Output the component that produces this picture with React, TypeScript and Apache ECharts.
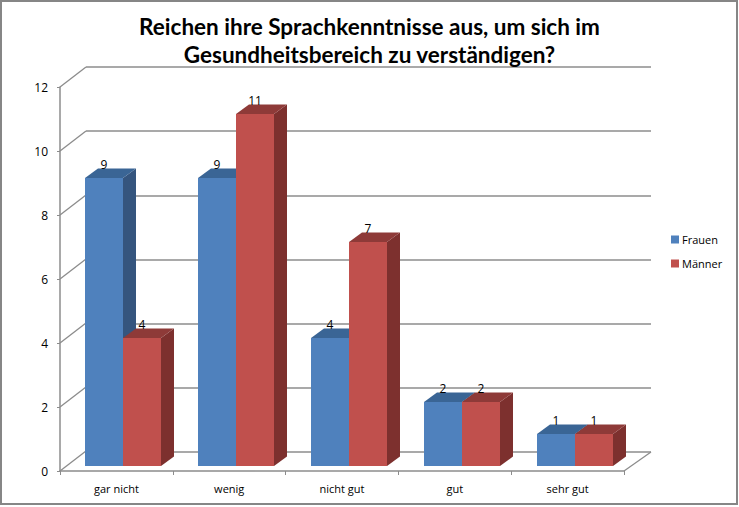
import React, { useEffect, useRef } from "react";
import * as echarts from "echarts";

const titleText = "Reichen ihre Sprachkenntnisse aus, um sich im\nGesundheitsbereich zu verständigen?";
const categories = ["gar nicht", "wenig", "nicht gut", "gut", "sehr gut"];
const frauen = [9, 9, 4, 2, 1];
const maenner = [4, 11, 7, 2, 1];
const ticks = [0, 2, 4, 6, 8, 10, 12];

const W = 739;
const H = 505;
const LINE = "#8c8c8c";
const DEPTH_X = 13;
const DEPTH_Y = 9.5;
const BASE_SHIFT = 4.6;

function barSeries(name: string, values: number[], side: number, front: string, top: string, dark: string) {
  return {
    name,
    type: "custom",
    xAxisIndex: 0,
    yAxisIndex: 0,
    clip: false,
    silent: true,
    z: 5,
    itemStyle: { color: front },
    data: values.map((v, i) => [i, v]),
    renderItem: (_p: any, api: any) => {
      const i = api.value(0);
      const v = api.value(1);
      const band = api.size([1, 0])[0];
      const barW = Math.round(band * 0.336);
      const c = api.coord([i, v]);
      const z0 = api.coord([i, 0]);
      const centre = Math.round(c[0] + band * 0.062);
      const x0 = side < 0 ? centre - barW : centre;
      const x1 = x0 + barW;
      const yt = Math.round(c[1] - BASE_SHIFT);
      const yb = Math.round(z0[1] - BASE_SHIFT);
      return {
        type: "group",
        children: [
          { type: "polygon", shape: { points: [[x1, yt], [x1 + DEPTH_X, yt - DEPTH_Y], [x1 + DEPTH_X, yb - DEPTH_Y], [x1, yb]] }, style: { fill: dark } },
          { type: "polygon", shape: { points: [[x0, yt], [x0 + DEPTH_X, yt - DEPTH_Y], [x1 + DEPTH_X, yt - DEPTH_Y], [x1, yt]] }, style: { fill: top } },
          { type: "rect", shape: { x: x0, y: yt, width: barW, height: yb - yt }, style: { fill: front } },
          {
            type: "text",
            z2: 50,
            style: {
              x: (x0 + x1) / 2,
              y: yt - 14,
              text: String(v),
              fill: "#000",
              font: "12px 'Open Sans'",
              align: "center",
              verticalAlign: "middle",
            },
          },
        ],
      };
    },
  };
}

export default function App() {
  const ref = useRef<HTMLDivElement>(null);
  useEffect(() => {
    const chart = echarts.init(ref.current!, undefined, { renderer: "svg" });
    chart.setOption({
      animation: false,
      backgroundColor: "#fff",
      title: {
        text: titleText,
        left: "center",
        top: 7,
        textStyle: { fontFamily: "Lato", fontWeight: "bold", fontSize: 22.5, lineHeight: 28, color: "#000" },
      },
      legend: {
        data: ["Frauen", "Männer"],
        orient: "vertical",
        left: 666,
        top: 229,
        itemWidth: 8,
        itemHeight: 8,
        itemGap: 13,
        icon: "rect",
        selectedMode: false,
        textStyle: { fontFamily: "Open Sans", fontSize: 11, color: "#000", padding: [0, 0, 0, -2] },
      },
      grid: [
        { left: 60, top: 87, width: 564, height: 384 },
        { left: 86, top: 67, width: 565, height: 385 },
      ],
      xAxis: [
        {
          type: "category",
          gridIndex: 0,
          data: categories,
          axisLine: { lineStyle: { color: LINE, width: 1.5 } },
          axisTick: { show: true, length: 4, lineStyle: { color: LINE } },
          axisLabel: { fontFamily: "Open Sans", fontSize: 11, color: "#000", margin: 12 },
        },
        { type: "category", gridIndex: 1, data: categories, show: false },
      ],
      yAxis: [
        {
          type: "value",
          gridIndex: 0,
          min: 0,
          max: 12,
          interval: 2,
          axisLine: { show: true, lineStyle: { color: LINE, width: 1.5 } },
          axisTick: { show: true, length: 3, lineStyle: { color: LINE } },
          axisLabel: { fontFamily: "Open Sans", fontSize: 12, color: "#000", margin: 12 },
          splitLine: { show: false },
        },
        {
          type: "value",
          gridIndex: 1,
          min: 0,
          max: 12,
          interval: 2,
          axisLine: { show: false },
          axisTick: { show: false },
          axisLabel: { show: false },
          splitLine: { show: true, lineStyle: { color: LINE, width: 1.5 } },
        },
      ],
      series: [
        {
          name: "frame",
          type: "custom",
          xAxisIndex: 0,
          yAxisIndex: 0,
          clip: false,
          silent: true,
          z: 1,
          data: ticks.map((t) => [0, t]),
          renderItem: (p: any, api: any) => {
            const y = api.coord([0, api.value(1)])[1];
            const cs = p.coordSys;
            const children: any[] = [
              { type: "line", shape: { x1: cs.x, y1: y, x2: cs.x + 26, y2: y - 20 }, style: { stroke: LINE, lineWidth: 1.3 } },
            ];
            if (api.value(1) === 0) {
              children.push({
                type: "line",
                shape: { x1: cs.x + cs.width, y1: y, x2: cs.x + cs.width + 27, y2: y - 19 },
                style: { stroke: LINE, lineWidth: 1.3 },
              });
            }
            return { type: "group", children };
          },
        },
        barSeries("Frauen", frauen, -1, "#4F81BD", "#3A6595", "#35557E"),
        barSeries("Männer", maenner, 1, "#C0504D", "#8E3A38", "#7D302E"),
      ],
      graphic: [
        {
          type: "rect",
          silent: true,
          z: 100,
          shape: { x: 1, y: 1, width: W - 3, height: H - 2 },
          style: { fill: "none", stroke: "#868686", lineWidth: 2 },
        },
      ],
    });
    return () => chart.dispose();
  }, []);
  return <div ref={ref} style={{ position: "absolute", left: 0, top: 0, width: W, height: H }} />;
}
